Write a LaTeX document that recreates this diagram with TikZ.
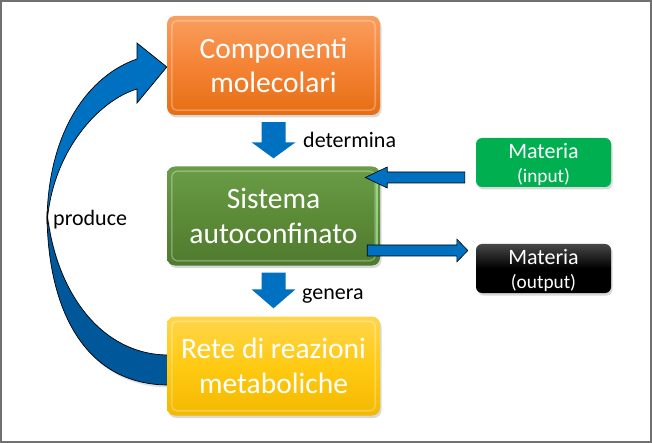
\documentclass[tikz,border=0pt]{standalone}
\usepackage{fontspec}
\setmainfont{Carlito}
\usetikzlibrary{calc,shadows,backgrounds}
\definecolor{blu}{HTML}{0070C0}
\definecolor{bludark}{HTML}{00589B}
\definecolor{orT}{HTML}{F99E5E}
\definecolor{orM}{HTML}{F58335}
\definecolor{orB}{HTML}{E66E12}
\definecolor{grT}{HTML}{6A9C46}
\definecolor{grM}{HTML}{5C8B38}
\definecolor{grB}{HTML}{4E7A2D}
\definecolor{yeT}{HTML}{FFD64C}
\definecolor{yeM}{HTML}{FFCA12}
\definecolor{yeB}{HTML}{F4B800}
\definecolor{matgreen}{HTML}{00B050}
\definecolor{frame}{HTML}{707070}
\begin{document}
\begin{tikzpicture}[x=1pt,y=-1pt,
  box/.style={rounded corners=8pt, minimum width=213pt, minimum height=99pt,
    inner sep=0pt, text=white, align=center,
    font=\fontsize{29.5}{34.5}\selectfont,
    drop shadow={opacity=0.3, shadow xshift=1.5pt, shadow yshift=-2.5pt}},
  matbox/.style={rounded corners=6pt, minimum width=135pt, minimum height=49pt,
    inner sep=0pt, text=white, align=center, text depth=0pt,
    font=\fontsize{22}{24}\selectfont,
    drop shadow={opacity=0.3, shadow xshift=1.5pt, shadow yshift=-2.5pt}},
  bevel/.style={draw=white, draw opacity=0.28, line width=1.6pt, rounded corners=5pt},
  downarrow/.style={fill=blu},
  sidearrow/.style={fill=blu, draw=black, line width=0.6pt},
  curvearrow/.style={draw=black, line width=0.7pt},
  lbl/.style={font=\fontsize{22}{26}\selectfont, text=black, inner sep=0pt, anchor=base west}
]
\useasboundingbox (0,0) rectangle (652,443);
\draw[frame, line width=2pt] (1,1) rectangle (651,442);

% main boxes
\node[box, top color=orT, bottom color=orB, middle color=orM] (comp) at (273.5,65.5) {Componenti\\molecolari};
\node[box, top color=grT, bottom color=grB, middle color=grM] (sist) at (273.5,216) {Sistema\\autoconfinato};
\node[box, top color=yeT, bottom color=yeB, middle color=yeM] (rete) at (273.5,366) {Rete di reazioni\\metaboliche};

\foreach \n in {comp,sist,rete}{
  \draw[bevel] ([xshift=5pt,yshift=-5pt]\n.north west) rectangle ([xshift=-5pt,yshift=5pt]\n.south east);
}
\draw[draw=white!70!green, opacity=0.6, line width=2.5pt] ([xshift=-3pt,yshift=-10pt]sist.north east) -- ([xshift=-3pt,yshift=10pt]sist.south east);

% materia boxes
\node[matbox, fill=matgreen] (minp) at (543.5,162.5)
  {Materia\\{\fontsize{19.3}{24}\selectfont (input)}};
\node[matbox, top color=black!72, bottom color=black, middle color=black] (mout) at (543.5,268.5)
  {Materia\\{\fontsize{19.3}{24}\selectfont (output)}};

% down arrows
\path (comp.south) ++(0,7) coordinate (d1s);
\path (sist.north) ++(0,-8) coordinate (d1e);
\fill[downarrow] ($(d1s)+(-12,0)$) -- ($(d1e)+(-12,-16)$) -- ($(d1e)+(-22,-16)$) -- (d1e)
  -- ($(d1e)+(22,-16)$) -- ($(d1e)+(12,-16)$) -- ($(d1s)+(12,0)$) -- cycle;
\path (sist.south) ++(0,7) coordinate (d2s);
\path (rete.north) ++(0,-8) coordinate (d2e);
\fill[downarrow] ($(d2s)+(-12,0)$) -- ($(d2e)+(-12,-19)$) -- ($(d2e)+(-22,-19)$) -- (d2e)
  -- ($(d2e)+(22,-19)$) -- ($(d2e)+(12,-19)$) -- ($(d2s)+(12,0)$) -- cycle;

% labels
\node[lbl] (ldet) at (303,148) {determina};
\node[lbl] (lgen) at (302,299) {genera};
\node[lbl] (lpro) at (53,226) {produce};

% input arrow
\coordinate (ia) at ($(minp.west)+(-11,15)$);
\coordinate (ib) at ($(sist.east |- ia)+(-15,0)$);
\draw[sidearrow] ($(ia)+(0,-5.5)$) -- ($(ib)+(22,-5.5)$) -- ($(ib)+(22,-10.5)$) -- (ib)
  -- ($(ib)+(22,10.5)$) -- ($(ib)+(22,5.5)$) -- ($(ia)+(0,5.5)$) -- cycle;

% output arrow
\coordinate (oa) at ($(sist.east)+(-13,34.5)$);
\coordinate (ob) at ($(mout.west |- oa)+(-8,0)$);
\draw[sidearrow] ($(oa)+(0,-5.5)$) -- ($(ob)+(-11,-5.5)$) -- ($(ob)+(-11,-11.5)$) -- (ob)
  -- ($(ob)+(-11,11.5)$) -- ($(ob)+(-11,5.5)$) -- ($(oa)+(0,5.5)$) -- cycle;

% curved arrow (behind boxes)
\begin{scope}[on background layer]
  \coordinate (ct) at ($(comp.west)+(0,1.5)$);
  \coordinate (rt) at ($(rete.west)+(2,0)$);
  \draw[curvearrow, fill=bludark, drop shadow={opacity=0.25, shadow xshift=1.5pt, shadow yshift=-2.5pt}]
    (47,212) .. controls (47,310) and (85,385) .. ($(rt)+(0,19)$) -- ($(rt)+(0,-11)$)
    .. controls (100,355) and (55,290) .. (47,212) -- cycle;
  \draw[curvearrow, fill=blu]
    (47,224) .. controls (47,130) and (90,75) .. (137,59) -- (137,43) -- (ct) -- (137,103)
    -- (137,89) .. controls (100,100) and (52,150) .. (47,224) -- cycle;
\end{scope}
\end{tikzpicture}
\end{document}
